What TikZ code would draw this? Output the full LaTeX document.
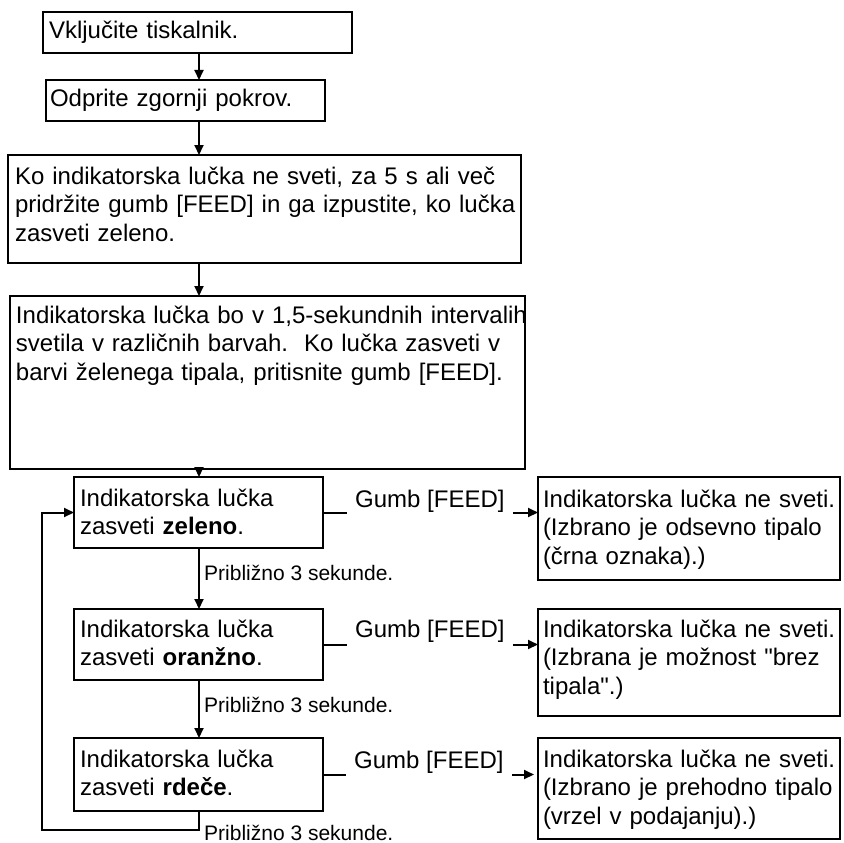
\documentclass[tikz,border=0pt]{standalone}
\usepackage{fontspec}
\setmainfont{Liberation Sans}[Ligatures=TeXOff]
\usetikzlibrary{arrows.meta,calc}
\begin{document}
\begin{tikzpicture}[x=1pt,y=-1pt,
  fc/.style={draw, line width=2pt, shape=rectangle, anchor=north west, outer sep=0pt,
    inner ysep=0pt, inner xsep=6pt, align=left, font=\fontsize{24}{28.5}\selectfont},
  conn/.style={line width=2pt, -{Triangle[length=10pt,width=9pt]}},
  plain/.style={line width=2pt},
  lbl/.style={inner sep=0pt, anchor=base west, font=\fontsize{21}{25}\selectfont},
  gumb/.style={inner ysep=0pt, inner xsep=8pt, anchor=base west, font=\fontsize{24}{28.5}\selectfont}]
\useasboundingbox (0,0) rectangle (843,843);
\coordinate (col) at (199,0);
% top chain
\node[fc, text width=297pt, text height=27pt, text depth=14pt] (b1) at (43,12)
  {\mbox{Vključite tiskalnik.}};
\node[fc, inner xsep=4pt, text width=271pt, text height=26pt, text depth=15pt] (b2) at (46,80)
  {\mbox{Odprite zgornji pokrov.}};
\node[fc, inner xsep=7pt, text width=499pt, text height=29pt, text depth=79pt] (b3) at (8,155)
  {\mbox{Ko indikatorska lučka ne sveti, za 5 s ali več}\\
   \mbox{pridržite gumb [FEED] in ga izpustite, ko lučka}\\
   \mbox{zasveti zeleno.}};
\node[fc, text width=503pt, text height=27pt, text depth=146pt] (b4) at (10,296)
  {\mbox{Indikatorska lučka bo v 1,5-sekundnih intervalih}\\
   \mbox{svetila v različnih barvah.\ \ Ko lučka zasveti v}\\
   \mbox{barvi želenega tipala, pritisnite gumb [FEED].}};
% cycle boxes
\node[fc, text width=237pt, text height=29pt, text depth=42pt] (bz) at (74,477)
  {\mbox{Indikatorska lučka}\\ \mbox{zasveti \textbf{zeleno}.}};
\node[fc, text width=237pt, text height=28pt, text depth=43pt] (bo) at (74,609)
  {\mbox{Indikatorska lučka}\\ \mbox{zasveti \textbf{oranžno}.}};
\node[fc, text width=237pt, text height=29pt, text depth=44pt] (br) at (74,738)
  {\mbox{Indikatorska lučka}\\ \mbox{zasveti \textbf{rdeče}.}};
% result boxes
\node[fc, inner xsep=5pt, text width=292pt, text height=30pt, text depth=73pt] (r1) at (538,477)
  {\mbox{Indikatorska lučka ne sveti.}\\ \mbox{(Izbrano je odsevno tipalo}\\ \mbox{(črna oznaka).)}};
\node[fc, inner xsep=5pt, text width=292pt, text height=28pt, text depth=79pt] (r2) at (538,609)
  {\mbox{Indikatorska lučka ne sveti.}\\ \mbox{(Izbrana je možnost "brez}\\ \mbox{tipala".)}};
\node[fc, inner xsep=5pt, text width=292pt, text height=29pt, text depth=72pt] (r3) at (538,738)
  {\mbox{Indikatorska lučka ne sveti.}\\ \mbox{(Izbrano je prehodno tipalo}\\ \mbox{(vrzel v podajanju).)}};
% button labels
\node[gumb] (g1) at (347,507) {Gumb [FEED]};
\node[gumb] (g2) at (347,637) {Gumb [FEED]};
\node[gumb] (g3) at (346,768) {Gumb [FEED]};
% time labels
\node[lbl] (p1) at (204,580) {Približno 3 sekunde.};
\node[lbl] (p2) at (204,712) {Približno 3 sekunde.};
\node[lbl] (p3) at (204,840) {Približno 3 sekunde.};
% vertical connectors
\draw[conn] (b1.south -| col) -- (b2.north -| col);
\draw[conn] (b2.south -| col) -- (b3.north -| col);
\draw[conn] (b3.south -| col) -- (b4.north -| col);
\draw[conn] (b4.south -| col) -- (bz.north -| col);
\draw[conn] (bz.south -| col) -- (bo.north -| col);
\draw[conn] (bo.south -| col) -- (br.north -| col);
% loop back
\coordinate (lp) at (42,830);
\draw[conn] (br.south -| col) -- (col |- lp) -- (lp) -- (lp |- bz.west) -- (bz.west);
% horizontal connectors
\draw[plain] (bz.east) -- (g1.west |- bz.east);
\draw[conn] (g1.east |- bz.east) -- (r1.west |- bz.east);
\draw[plain] (bo.east) -- (g2.west |- bo.east);
\draw[conn] (g2.east |- bo.east) -- (r2.west |- bo.east);
\draw[plain] (br.east) -- (g3.west |- br.east);
\draw[conn, shorten >=4pt] (g3.east |- br.east) -- (r3.west |- br.east);
\end{tikzpicture}
\end{document}
